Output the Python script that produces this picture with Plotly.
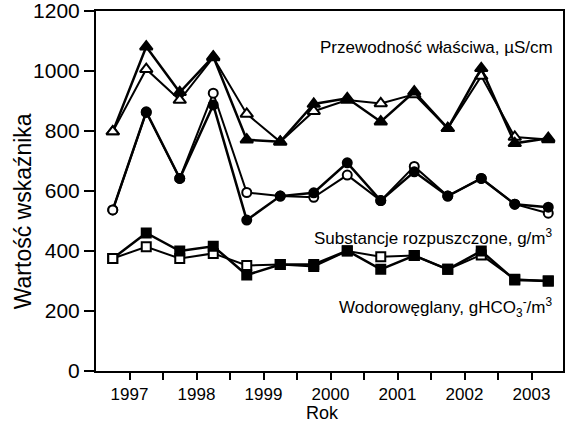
import plotly.graph_objects as go

# sampling times (half-year steps, starting autumn 1996)
time = [1996.75, 1997.25, 1997.75, 1998.25, 1998.75, 1999.25, 1999.75,
        2000.25, 2000.75, 2001.25, 2001.75, 2002.25, 2002.75, 2003.25]

# Przewodność właściwa, µS/cm
cond_open = [798, 1006, 903, 1045, 857, 764, 866, 903, 892, 922, 809, 983, 780, 772]
cond_fill = [798, 1081, 929, 1048, 771, 764, 890, 909, 831, 931, 809, 1009, 759, 776]

# Substancje rozpuszczone, g/m3
diss_open = [537, 862, 642, 926, 595, 583, 579, 653, 568, 682, 583, 642, 556, 526]
diss_fill = [537, 864, 642, 887, 503, 583, 594, 694, 568, 664, 583, 642, 556, 546]

# Wodorowęglany, gHCO3-/m3
bic_open = [375, 414, 375, 392, 352, 355, 348, 400, 381, 385, 339, 387, 306, 300]
bic_fill = [375, 460, 400, 416, 320, 355, 355, 401, 339, 385, 339, 400, 303, 300]

x_tickvals = [1997, 1998, 1999, 2000, 2001, 2002, 2003]
x_ticktext = ["1997", "1998", "1999", "2000", "2001", "2002", "2003"]
x_minorvals = [1997.5, 1998.5, 1999.5, 2000.5, 2001.5, 2002.5]
y_tickvals = [0, 200, 400, 600, 800, 1000, 1200]

FONT = "Liberation Sans, Arial, sans-serif"

fig = go.Figure()

def first_open(n):
    # at the first sampling point the open marker lies on top in the original
    return ["white"] + ["black"] * (n - 1)

series = [
    (cond_open, cond_fill, "triangle-up", 11),
    (diss_open, diss_fill, "circle", 9),
    (bic_open, bic_fill, "square", 9),
]

for vals_open, vals_fill, sym, size in series:
    fig.add_trace(go.Scatter(
        x=time, y=vals_open, mode="lines+markers",
        line=dict(color="black", width=2),
        marker=dict(symbol=sym, size=size, color="white",
                    line=dict(color="black", width=2)),
        showlegend=False, cliponaxis=False))
for vals_open, vals_fill, sym, size in series:
    fig.add_trace(go.Scatter(
        x=time, y=vals_fill, mode="lines+markers",
        line=dict(color="black", width=2.5),
        marker=dict(symbol=sym, size=size, color=first_open(len(time)),
                    line=dict(color="black", width=2)),
        showlegend=False, cliponaxis=False))

ann_font = dict(family=FONT, size=17, color="black")
fig.add_annotation(text="Przewodność właściwa, µS/cm", xref="paper", yref="y",
                   x=0.983, y=1077, xanchor="right", yanchor="middle",
                   showarrow=False, font=ann_font)
fig.add_annotation(text="Substancje rozpuszczone, g/m<sup>3</sup>", xref="paper", yref="y",
                   x=0.983, y=447, xanchor="right", yanchor="middle",
                   showarrow=False, font=ann_font)
fig.add_annotation(text="Wodorowęglany, gHCO<sub>3</sub><sup>-</sup>/m<sup>3</sup>",
                   xref="paper", yref="y",
                   x=0.983, y=213, xanchor="right", yanchor="middle",
                   showarrow=False, font=ann_font)
fig.add_annotation(text="Wartość wskaźnika", xref="paper", yref="paper",
                   x=-0.156, y=0.444, xanchor="center", yanchor="middle",
                   textangle=-90, showarrow=False,
                   font=dict(family=FONT, size=23, color="black"))
fig.add_annotation(text="Rok", xref="paper", yref="paper",
                   x=0.484, y=-0.116, xanchor="center", yanchor="middle",
                   showarrow=False,
                   font=dict(family=FONT, size=18, color="black"))

fig.update_xaxes(range=[1996.5, 2003.47], tickvals=x_tickvals, ticktext=x_ticktext,
                 ticks="outside", ticklen=7, tickwidth=2, tickcolor="black",
                 minor=dict(tickvals=x_minorvals, ticks="outside", ticklen=7,
                            tickwidth=2, tickcolor="black", showgrid=False),
                 showline=True, linecolor="black", linewidth=2, mirror=True,
                 showgrid=False, zeroline=False, automargin=False,
                 ticklabeloverflow="allow",
                 tickfont=dict(family=FONT, size=17, color="black"))
fig.update_yaxes(range=[0, 1200], tickvals=y_tickvals,
                 ticks="outside", ticklen=10, tickwidth=2, tickcolor="black",
                 showline=True, linecolor="black", linewidth=2, mirror=True,
                 showgrid=False, zeroline=False, automargin=False,
                 ticklabeloverflow="allow",
                 tickfont=dict(family=FONT, size=21, color="black"))

fig.update_layout(width=570, height=424,
                  margin=dict(l=96, r=7, t=11, b=53),
                  plot_bgcolor="white", paper_bgcolor="white",
                  font=dict(family=FONT, color="black"))

fig.write_html("out.html", config={"displayModeBar": False},
               post_script="document.body.style.margin='0';"
                           "document.body.style.overflow='hidden';")
